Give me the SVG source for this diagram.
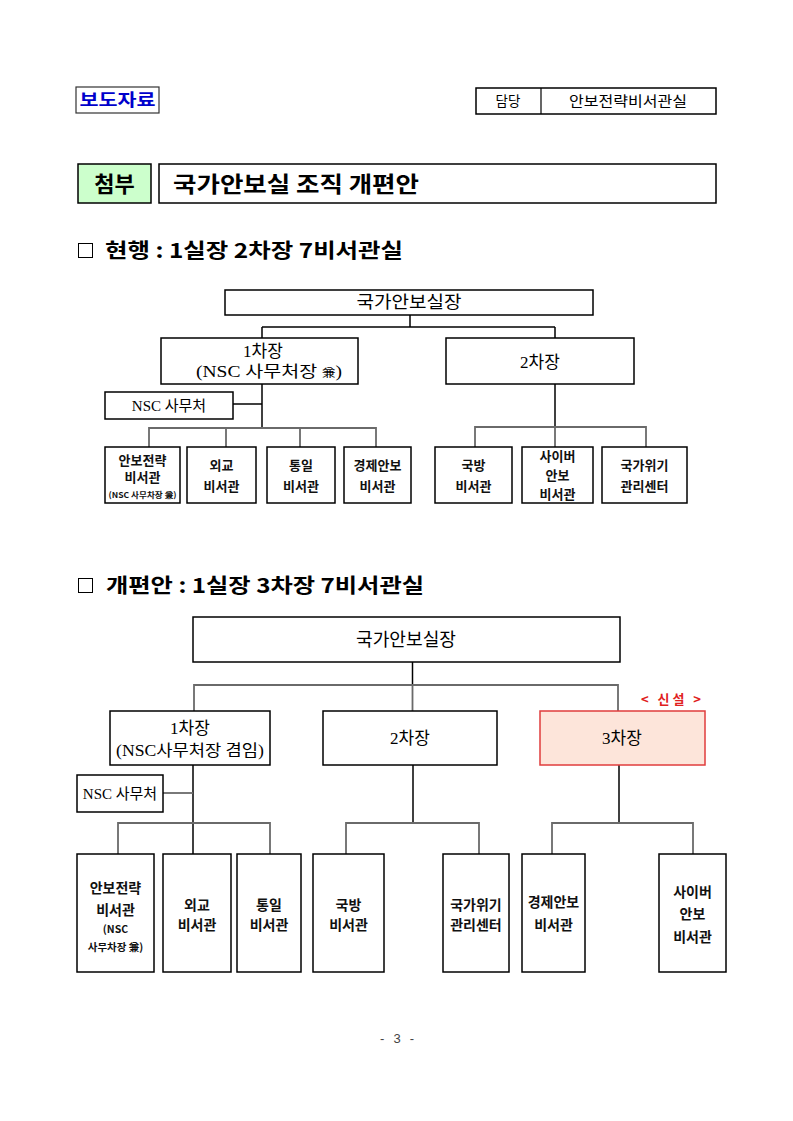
<svg xmlns="http://www.w3.org/2000/svg" width="793" height="1121" viewBox="0 0 793 1121">
<style>
.bg{fill:#ffffff}
.box{fill:#ffffff;stroke:#000;stroke-width:1.5}
.hd{font-family:"Noto Sans CJK KR","Liberation Sans",sans-serif;font-weight:bold;fill:#000}
.sf{font-family:"Liberation Serif","Noto Sans CJK KR",serif;fill:#000;text-anchor:middle}
.cb{font-family:"Noto Sans CJK KR","Liberation Sans",sans-serif;font-weight:bold;fill:#111;text-anchor:middle}
.trunk{stroke:#000;stroke-width:1.5;fill:none}
.br{stroke:#6a6a6a;stroke-width:1.8;fill:none}
</style>
<rect class="bg" x="0" y="0" width="793" height="1121"/>

<!-- header -->
<g id="press">
<rect x="76" y="87" width="83" height="26" fill="#fff" stroke="#333" stroke-width="1.2"/>
<text x="117.5" y="106" font-family="Noto Sans CJK KR, sans-serif" font-weight="bold" font-size="17" fill="#0000cc" text-anchor="middle" textLength="76" lengthAdjust="spacingAndGlyphs">보도자료</text>
</g>
<g id="contact">
<rect x="476" y="88" width="240" height="26" fill="#fff" stroke="#000" stroke-width="1.5"/>
<line x1="541" y1="88" x2="541" y2="114" stroke="#000" stroke-width="1.2"/>
<text x="508" y="106" font-family="Noto Sans CJK KR, sans-serif" font-size="13.5" text-anchor="middle">담당</text>
<text x="628" y="106" font-family="Noto Sans CJK KR, sans-serif" font-size="14" text-anchor="middle" textLength="118" lengthAdjust="spacingAndGlyphs">안보전략비서관실</text>
</g>
<g id="attach">
<rect x="78" y="164" width="73" height="39" fill="#ccffcc" stroke="#000" stroke-width="1.5"/>
<text class="hd" x="114.5" y="192" font-size="22" text-anchor="middle">첨부</text>
</g>
<g id="title">
<rect x="159" y="164" width="557" height="39" fill="#fff" stroke="#000" stroke-width="1.5"/>
<text class="hd" x="173" y="192" font-size="22" textLength="246" lengthAdjust="spacingAndGlyphs">국가안보실 조직 개편안</text>
</g>

<!-- section 1 -->
<g id="sec1">
<rect x="78.5" y="243.5" width="14" height="14" fill="none" stroke="#000" stroke-width="1"/>
<text class="hd" x="105" y="258" font-size="20" textLength="298" lengthAdjust="spacingAndGlyphs">현행 : 1실장 2차장 7비서관실</text>
</g>

<g id="connectors1">
<path class="trunk" d="M410 315 V327"/>
<path class="trunk" d="M262 327 H555"/>
<path class="trunk" d="M262 327 V338 M555 327 V338"/>
<path class="trunk" d="M262 384 V428"/>
<path class="trunk" d="M233 404 H262"/>
<path class="br" d="M149 447 V428 H376 V447 M226 428 V447 M300 428 V447"/>
<path class="trunk" d="M555 384 V427"/>
<path class="br" d="M475 447 V427 H646 V447 M555 427 V447"/>
</g>

<g id="t-chief"><rect class="box" x="225" y="290" width="368" height="25"/><text class="sf" x="409" y="308" font-size="17" textLength="105" lengthAdjust="spacingAndGlyphs">국가안보실장</text></g>
<g id="t-vice1"><rect class="box" x="161" y="338" width="197" height="46"/><text class="sf" x="263" y="357" font-size="17">1차장</text><text class="sf" x="269" y="377" font-size="16" textLength="146" lengthAdjust="spacingAndGlyphs">(NSC 사무처장 <tspan font-size="11">兼</tspan>)</text></g>
<g id="t-vice2"><rect class="box" x="446" y="338" width="188" height="46"/><text class="sf" x="540" y="368" font-size="17">2차장</text></g>
<g id="t-nsc"><rect class="box" x="105" y="392" width="128" height="27"/><text class="sf" x="169" y="411" font-size="15">NSC 사무처</text></g>

<g id="t-c1"><rect class="box" x="105" y="447" width="75" height="56"/><text class="cb" x="142.5" y="465" font-size="13">안보전략</text><text class="cb" x="142.5" y="482" font-size="13">비서관</text><text class="cb" x="142.5" y="498" font-size="8" textLength="68" lengthAdjust="spacingAndGlyphs">(NSC 사무차장 兼)</text></g>
<g id="t-c2"><rect class="box" x="187" y="447" width="69" height="56"/><text class="cb" x="221.5" y="470" font-size="13">외교</text><text class="cb" x="221.5" y="491" font-size="13">비서관</text></g>
<g id="t-c3"><rect class="box" x="267" y="447" width="68" height="56"/><text class="cb" x="301" y="470" font-size="13">통일</text><text class="cb" x="301" y="491" font-size="13">비서관</text></g>
<g id="t-c4"><rect class="box" x="344" y="447" width="67" height="56"/><text class="cb" x="377.5" y="470" font-size="13">경제안보</text><text class="cb" x="377.5" y="491" font-size="13">비서관</text></g>
<g id="t-c5"><rect class="box" x="435" y="447" width="77" height="56"/><text class="cb" x="473.5" y="470" font-size="13">국방</text><text class="cb" x="473.5" y="491" font-size="13">비서관</text></g>
<g id="t-c6"><rect class="box" x="522" y="447" width="71" height="56"/><text class="cb" x="557.5" y="461" font-size="13">사이버</text><text class="cb" x="557.5" y="480" font-size="13">안보</text><text class="cb" x="557.5" y="499" font-size="13">비서관</text></g>
<g id="t-c7"><rect class="box" x="602" y="447" width="85" height="56"/><text class="cb" x="644.5" y="470" font-size="13">국가위기</text><text class="cb" x="644.5" y="491" font-size="13">관리센터</text></g>

<!-- section 2 -->
<g id="sec2">
<rect x="78.5" y="578.5" width="14" height="14" fill="none" stroke="#000" stroke-width="1"/>
<text class="hd" x="106" y="593" font-size="20" textLength="318" lengthAdjust="spacingAndGlyphs">개편안 : 1실장 3차장 7비서관실</text>
</g>

<g id="connectors2">
<path class="trunk" d="M412.5 662 V685"/>
<path class="br" d="M194 711 V685 H618 V711 M412.5 685 V711"/>
<path class="trunk" d="M193 765 V854"/>
<path class="br" d="M163 793 H193"/>
<path class="br" d="M118 854 V823 H270 V854"/>
<path class="trunk" d="M413 765 V823"/>
<path class="br" d="M346 854 V823 H479 V854"/>
<path class="trunk" d="M619 765 V823"/>
<path class="br" d="M552 854 V823 H693 V854"/>
</g>

<g id="n-chief"><rect class="box" x="193" y="617" width="427" height="45"/><text class="sf" x="406" y="646" font-size="18" textLength="100" lengthAdjust="spacingAndGlyphs">국가안보실장</text></g>
<g id="n-vice1"><rect class="box" x="110" y="711" width="160" height="54"/><text class="sf" x="190" y="734" font-size="17">1차장</text><text class="sf" x="190" y="756" font-size="16" textLength="148" lengthAdjust="spacingAndGlyphs">(NSC사무처장 겸임)</text></g>
<g id="n-vice2"><rect class="box" x="323" y="711" width="174" height="54"/><text class="sf" x="410" y="744" font-size="17">2차장</text></g>
<g id="n-vice3"><rect x="540" y="711" width="165" height="54" fill="#fde5da" stroke="#e03c3c" stroke-width="1.5"/><text class="sf" x="622" y="744" font-size="17">3차장</text></g>
<g id="n-new"><text x="671" y="704" font-family="Noto Sans CJK KR, sans-serif" font-weight="bold" font-size="13" fill="#e02020" text-anchor="middle" textLength="60" lengthAdjust="spacing">&lt; 신설 &gt;</text></g>
<g id="n-nsc"><rect class="box" x="77" y="775" width="86" height="37"/><text class="sf" x="120" y="799" font-size="15">NSC 사무처</text></g>

<g id="n-c1"><rect class="box" x="77" y="854" width="77" height="118"/><text class="cb" x="115.5" y="893" font-size="14">안보전략</text><text class="cb" x="115.5" y="915" font-size="14">비서관</text><text class="cb" x="115.5" y="933" font-size="10.5">(NSC</text><text class="cb" x="115.5" y="951" font-size="10.5">사무차장 兼)</text></g>
<g id="n-c2"><rect class="box" x="163" y="854" width="68" height="118"/><text class="cb" x="197" y="910" font-size="14">외교</text><text class="cb" x="197" y="930" font-size="14">비서관</text></g>
<g id="n-c3"><rect class="box" x="237" y="854" width="64" height="118"/><text class="cb" x="269" y="910" font-size="14">통일</text><text class="cb" x="269" y="930" font-size="14">비서관</text></g>
<g id="n-c4"><rect class="box" x="313" y="854" width="71" height="118"/><text class="cb" x="348.5" y="910" font-size="14">국방</text><text class="cb" x="348.5" y="930" font-size="14">비서관</text></g>
<g id="n-c5"><rect class="box" x="443" y="854" width="66" height="118"/><text class="cb" x="476" y="910" font-size="14">국가위기</text><text class="cb" x="476" y="930" font-size="14">관리센터</text></g>
<g id="n-c6"><rect class="box" x="522" y="854" width="63" height="118"/><text class="cb" x="553.5" y="907" font-size="14">경제안보</text><text class="cb" x="553.5" y="930" font-size="14">비서관</text></g>
<g id="n-c7"><rect class="box" x="659" y="854" width="67" height="118"/><text class="cb" x="692.5" y="897" font-size="14">사이버</text><text class="cb" x="692.5" y="919" font-size="14">안보</text><text class="cb" x="692.5" y="942" font-size="14">비서관</text></g>

<text x="397" y="1043" font-family="Liberation Sans, sans-serif" font-size="13" fill="#444" text-anchor="middle" textLength="34" lengthAdjust="spacing">- 3 -</text>
</svg>
